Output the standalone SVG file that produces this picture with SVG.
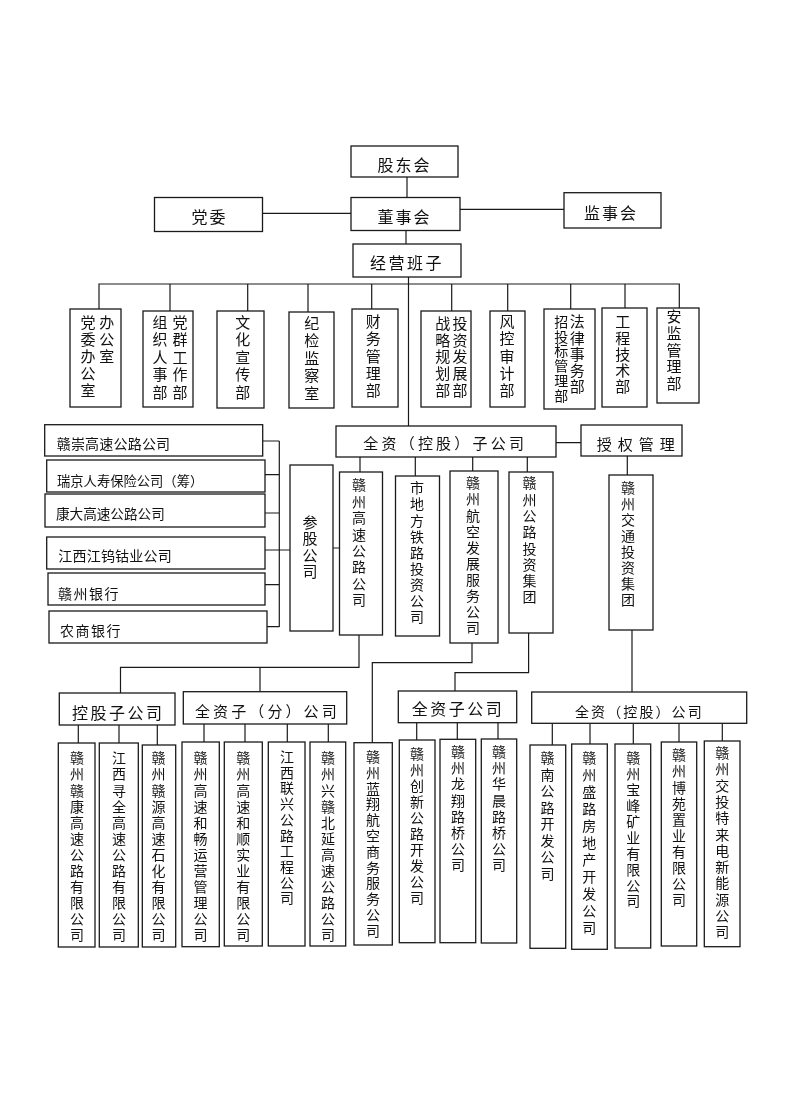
<svg xmlns="http://www.w3.org/2000/svg" width="790" height="1119" viewBox="0 0 790 1119">
<defs>
<filter id="gray" x="0" y="0" width="100%" height="100%" color-interpolation-filters="sRGB"><feColorMatrix type="saturate" values="0"/></filter>
</defs>
<style>
rect{fill:#fff;stroke:#1a1a1a;stroke-width:1.3}
#connectors path{fill:none;stroke:#1a1a1a;stroke-width:1.2}
text{font-family:"Noto Sans CJK SC","Liberation Sans",sans-serif;fill:#111}
.h16{font-size:16px;letter-spacing:2px}
.h14{font-size:14px}
.v15{font-size:15px;writing-mode:vertical-rl}
.v14{font-size:14px;writing-mode:vertical-rl}
</style>
<rect x="0" y="0" width="790" height="1119" style="fill:#fff;stroke:none"/>
<g id="diagram" filter="url(#gray)">
<rect x="0" y="0" width="790" height="1119" style="fill:#fff;stroke:none"/>
<g id="connectors">
<path d="M407 176.7V197.5M262.5 213.3H351M460 209.3H564M406 230.5V244M408.5 277V426"/>
<path d="M99 309V284H679.3V308M170 284V311M247.7 284V311M308 284V312M371.7 284V309M451.7 284V311M507.7 284V311M570.7 284V309M625 284V308"/>
<path d="M556 442.7H581M627.3 456V475M360 457V472M415.3 457V476M472.7 457V471M527.3 457V472M333 548H339.5"/>
<path d="M262.7 441H279.3M265 474.7H279.3M265 513H279.3M265 550H290M265 584.7H279.3M267 626.7H279.3M279.3 441V627"/>
<path d="M359 635V667.3H120.5V693M260 667.3V691.7M472 643V662.7H372.3V742.7M528.6 633V672.7H455V691M632 630V692"/>
<path d="M78.3 725V743M119 725V743M157.3 725V745M204 724V742M245 724V742M287.3 724V742M328.3 724V742M416.7 722.7V740M457.3 722.7V739.3M498 722.7V739"/>
<path d="M552.3 723.3V745M590 723.3V744M633.3 723.3V744M679 723.3V742M722.3 723.3V741"/>
</g>
<g id="n-gudonghui"><rect x="351" y="146" width="107" height="31"/><text class="h16" x="377.6" y="171">股东会</text></g>
<g id="n-dangwei"><rect x="154.5" y="197.5" width="108" height="34"/><text class="h16" x="191.6" y="223">党委</text></g>
<g id="n-dongshihui"><rect x="351" y="197.5" width="109" height="33"/><text class="h16" x="377.6" y="223">董事会</text></g>
<g id="n-jianshihui"><rect x="564" y="192.7" width="97" height="35.3"/><text class="h16" x="584" y="218.7">监事会</text></g>
<g id="n-jingying"><rect x="353" y="244" width="108" height="33"/><text class="h16" x="370" y="269" style="letter-spacing:2.5px">经营班子</text></g>

<g id="d1"><rect x="70" y="309" width="51" height="98"/>
<text class="v15" x="88" y="314.5" style="letter-spacing:2px">党委办公室</text>
<text class="v15" x="106.7" y="314.5" style="letter-spacing:2px">办公室</text></g>
<g id="d2"><rect x="143" y="311" width="50" height="96"/>
<text class="v15" x="160" y="314.5" style="letter-spacing:2.5px">组织人事部</text>
<text class="v15" x="180" y="314.5" style="letter-spacing:2.5px">党群工作部</text></g>
<g id="d3"><rect x="217" y="311" width="47" height="97"/>
<text class="v15" x="242.7" y="314.5" style="letter-spacing:2.5px">文化宣传部</text></g>
<g id="d4"><rect x="289" y="312" width="45" height="96"/>
<text class="v15" x="311.7" y="315.8" style="letter-spacing:2.5px">纪检监察室</text></g>
<g id="d5"><rect x="352" y="309" width="46" height="98"/>
<text class="v15" x="373.3" y="314.2" style="letter-spacing:2.1px">财务管理部</text></g>
<g id="d6"><rect x="421" y="311" width="50" height="96"/>
<text class="v15" x="442.7" y="315.8" style="letter-spacing:1.7px">战略规划部</text>
<text class="v15" x="460" y="315.8" style="letter-spacing:1.7px">投资发展部</text></g>
<g id="d7"><rect x="490" y="311" width="35" height="96"/>
<text class="v15" x="507" y="314.2" style="letter-spacing:2.1px">风控审计部</text></g>
<g id="d8"><rect x="544" y="309" width="51" height="100"/>
<text class="v14" x="561.3" y="314.7" style="letter-spacing:0.7px">招投标管理部</text>
<text class="v15" x="577.3" y="314.2" style="letter-spacing:1.2px">法律事务部</text></g>
<g id="d9"><rect x="602" y="308" width="45" height="99"/>
<text class="v15" x="622.7" y="314.2" style="letter-spacing:1.2px">工程技术部</text></g>
<g id="d10"><rect x="657" y="308" width="42" height="95"/>
<text class="v15" x="674" y="309.2" style="letter-spacing:1.7px">安监管理部</text></g>

<g id="n-quanzi"><rect x="336" y="426" width="220" height="31"/><text x="363.3" y="449" style="font-size:15px;letter-spacing:3.2px">全资（控股）子公司</text></g>
<g id="n-shouquan"><rect x="581" y="425" width="101" height="31"/><text x="596.7" y="449.7" style="font-size:15px;letter-spacing:6px">授权管理</text></g>
<g id="n-jiaotong"><rect x="609" y="475" width="44" height="155"/>
<text class="v14" x="628" y="481" style="letter-spacing:2px">赣州交通投资集团</text></g>
<g id="n-gaosu"><rect x="339.5" y="472" width="43" height="163"/>
<text class="v14" x="359" y="478" style="letter-spacing:2.4px">赣州高速公路公司</text></g>
<g id="n-tielu"><rect x="395.5" y="476" width="44" height="160"/>
<text class="v14" x="417" y="481" style="letter-spacing:2.1px">市地方铁路投资公司</text></g>
<g id="n-hangkong"><rect x="450" y="471" width="48" height="172"/>
<text class="v14" x="473" y="476" style="letter-spacing:2.1px">赣州航空发展服务公司</text></g>
<g id="n-gonglu"><rect x="509" y="472" width="44" height="161"/>
<text class="v14" x="529.5" y="476" style="letter-spacing:2.3px">赣州公路投资集团</text></g>
<g id="n-cangu"><rect x="290" y="465" width="43" height="166"/>
<text class="v15" x="310" y="514.5" style="letter-spacing:1.6px">参股公司</text></g>

<g id="s1"><rect x="44.7" y="424.7" width="218" height="31.3"/><text class="h14" x="56.7" y="448.6" style="letter-spacing:0.2px">赣崇高速公路公司</text></g>
<g id="s2"><rect x="46.7" y="460" width="218.3" height="32"/><text class="h14" x="57" y="486" style="font-size:13.3px">瑞京人寿保险公司（筹）</text></g>
<g id="s3"><rect x="45" y="494" width="220" height="33"/><text class="h14" x="56" y="518.6" style="font-size:13.6px">康大高速公路公司</text></g>
<g id="s4"><rect x="46.7" y="537" width="218.3" height="32"/><text class="h14" x="58.3" y="561.3" style="letter-spacing:0.2px">江西江钨钴业公司</text></g>
<g id="s5"><rect x="48" y="573" width="217" height="32"/><text class="h14" x="58" y="598.6" style="letter-spacing:1.5px">赣州银行</text></g>
<g id="s6"><rect x="49" y="611" width="218" height="32"/><text class="h14" x="60" y="636" style="letter-spacing:1.5px">农商银行</text></g>

<g id="n-konggu"><rect x="59.3" y="693" width="115.7" height="32"/><text x="72" y="719" style="font-size:16px;letter-spacing:2.5px">控股子公司</text></g>
<g id="n-quanzifen"><rect x="183.3" y="691.7" width="163.4" height="32.3"/><text x="195" y="717.4" style="font-size:15px;letter-spacing:3.1px">全资子（分）公司</text></g>
<g id="n-quanzizi"><rect x="398.3" y="691" width="118.4" height="31.7"/><text x="411.7" y="715.3" style="font-size:16px;letter-spacing:2.5px">全资子公司</text></g>
<g id="n-quanzikonggu"><rect x="531.7" y="692" width="215" height="31.3"/><text x="575" y="717" style="font-size:14px;letter-spacing:2.1px">全资（控股）公司</text></g>

<g id="b1"><rect x="58.3" y="743" width="36.7" height="204"/><text class="v14" x="77" y="751" style="letter-spacing:2.1px">赣州赣康高速公路有限公司</text></g>
<g id="b2"><rect x="99.3" y="743" width="39" height="204"/><text class="v14" x="119" y="751" style="letter-spacing:2.1px">江西寻全高速公路有限公司</text></g>
<g id="b3"><rect x="142.3" y="745" width="33.4" height="202"/><text class="v14" x="158.5" y="751" style="letter-spacing:2.1px">赣州赣源高速石化有限公司</text></g>
<g id="b4"><rect x="182" y="742" width="37.3" height="204.7"/><text class="v14" x="200.5" y="751" style="letter-spacing:2.1px">赣州高速和畅运营管理公司</text></g>
<g id="b5"><rect x="224.3" y="742" width="38" height="204"/><text class="v14" x="243.3" y="751" style="letter-spacing:2.1px">赣州高速和顺实业有限公司</text></g>
<g id="b6"><rect x="268.3" y="742" width="36.7" height="204"/><text class="v14" x="287" y="749.7" style="letter-spacing:1.7px">江西联兴公路工程公司</text></g>
<g id="b7"><rect x="310" y="742" width="35.7" height="204"/><text class="v14" x="328" y="751" style="letter-spacing:2.1px">赣州兴赣北延高速公路公司</text></g>
<g id="b8"><rect x="354" y="742.7" width="38.3" height="202.3"/><text class="v14" x="373" y="749.7" style="letter-spacing:1.8px">赣州蓝翔航空商务服务公司</text></g>
<g id="b9"><rect x="399.3" y="740" width="35.7" height="202.7"/><text class="v14" x="417" y="747" style="letter-spacing:2px">赣州创新公路开发公司</text></g>
<g id="b10"><rect x="440" y="739.3" width="35.7" height="203.4"/><text class="v14" x="458" y="744.7" style="letter-spacing:2.2px">赣州龙翔路桥公司</text></g>
<g id="b11"><rect x="481.3" y="739" width="35.4" height="204"/><text class="v14" x="499" y="744.7" style="letter-spacing:2.2px">赣州华晨路桥公司</text></g>
<g id="c1"><rect x="530" y="745" width="35.7" height="203.3"/><text class="v14" x="547.5" y="751" style="letter-spacing:2.5px">赣南公路开发公司</text></g>
<g id="c2"><rect x="571.7" y="744" width="35.6" height="205.3"/><text class="v14" x="589.3" y="751" style="letter-spacing:3px">赣州盛路房地产开发公司</text></g>
<g id="c3"><rect x="615" y="744" width="35.7" height="204"/><text class="v14" x="633.3" y="751" style="letter-spacing:1.9px">赣州宝峰矿业有限公司</text></g>
<g id="c4"><rect x="661.3" y="742" width="35.4" height="204"/><text class="v14" x="679" y="748" style="letter-spacing:2.1px">赣州博苑置业有限公司</text></g>
<g id="c5"><rect x="704.3" y="741" width="35.7" height="205.7"/><text class="v14" x="722.3" y="745.7" style="letter-spacing:2.3px">赣州交投特来电新能源公司</text></g>
</g>
</svg>
